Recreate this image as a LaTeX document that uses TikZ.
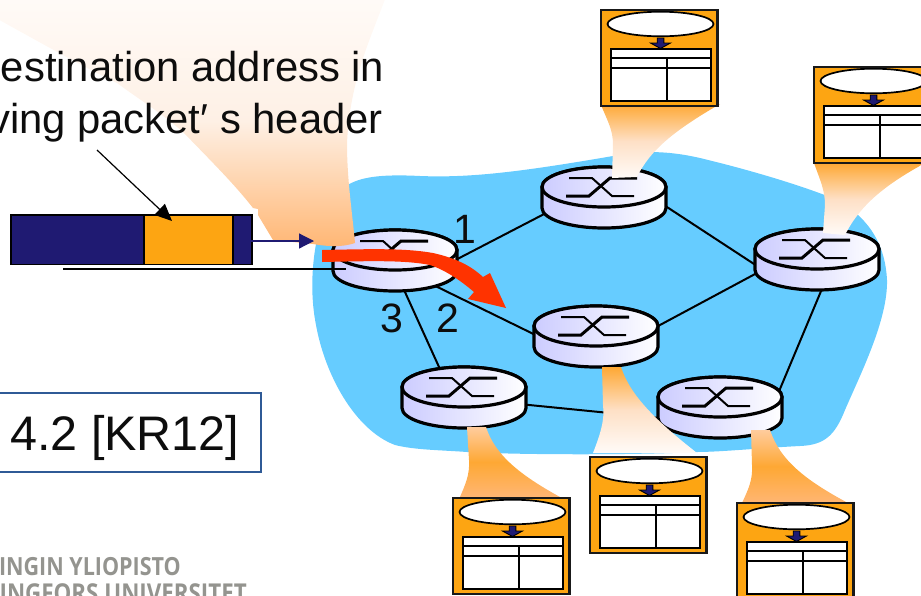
\documentclass[tikz,border=0pt]{standalone}
\usepackage{fontspec}
\setmainfont{Liberation Sans}
\newfontfamily\logofont[FakeStretch=0.86]{Open Sans}
\usetikzlibrary{arrows.meta}
\definecolor{cloudblue}{RGB}{102,204,255}
\definecolor{lav}{RGB}{204,204,255}
\definecolor{navy}{RGB}{31,26,114}
\definecolor{fworange}{RGB}{253,165,18}
\definecolor{coneorange}{RGB}{254,168,52}
\definecolor{conepeach}{RGB}{255,182,115}
\definecolor{conepale}{RGB}{255,251,248}
\definecolor{conemid}{RGB}{254,224,198}
\definecolor{bigmid}{RGB}{254,240,229}
\definecolor{arrowred}{RGB}{255,51,0}
\definecolor{framblue}{RGB}{47,90,150}
\definecolor{logogray}{RGB}{148,148,143}
\tikzset{
  x=1pt,y=-1pt,
  routerline/.style={draw=black,line width=3.2pt,left color=lav,right color=white},
  crossthin/.style={line width=2pt},
  crossthick/.style={line width=3pt},
  linkline/.style={draw=black,line width=2pt},
  boxframe/.style={draw=black!90,line width=2.2pt,fill=fworange},
  tableframe/.style={draw=black,line width=2.2pt,fill=white},
  tablerule/.style={draw=black,line width=1.6pt},
  bigtext/.style={inner sep=0pt,font=\fontsize{41.8}{50}\selectfont,text=black!95},
  labeltext/.style={inner sep=0pt,font=\fontsize{41}{48}\selectfont,text=black!95},
  logotext/.style={inner sep=0pt,font=\logofont\bfseries\fontsize{25}{28}\selectfont,text=logogray},
}
\newcommand{\routerat}[2]{%
  \begin{scope}[shift={(#1,#2)}]
    \path[routerline] (-62,0) -- (-62,21) arc[start angle=180,end angle=360,x radius=62pt,y radius=20pt] -- (62,0) arc[start angle=0,end angle=180,x radius=62pt,y radius=20pt] -- cycle;
    \path[routerline] (0,0) ellipse[x radius=62pt,y radius=20pt];
    \draw[crossthin] (-35,-9) -- (-12,-9) -- (8,9) -- (30,9);
    \draw[crossthick] (-38,9) -- (-15,9) -- (6,-9) -- (33,-9);
  \end{scope}}
\newcommand{\fwdbox}[2]{%
  \begin{scope}[shift={(#1,#2)}]
    \path[boxframe] (0,0) rectangle (116.5,96);
    \draw[fill=white,line width=1.7pt] (59.5,14) ellipse[x radius=53pt,y radius=12.3pt];
    \draw[fill=navy,line width=0.9pt] (56.2,28) -- (62.8,28) -- (62.8,33) -- (69.5,33) -- (59.5,38.5) -- (49.5,33) -- (56.2,33) -- cycle;
    \path[tableframe] (10,39) rectangle (110,91);
    \draw[tablerule] (10,48) -- (110,48) (10,58) -- (110,58) (66,48) -- (66,91);
  \end{scope}}
\begin{document}
\begin{tikzpicture}
\useasboundingbox (0,0) rectangle (921,595);
\clip (0,0) rectangle (921,595);
% cloud
\fill[cloudblue] (346,186) .. controls (360,177) and (380,174) .. (420,176)
  .. controls (470,178) and (520,172) .. (613,156)
  .. controls (640,151) and (665,150) .. (700,158)
  .. controls (750,170) and (800,185) .. (835,199)
  .. controls (865,215) and (885,240) .. (887,280)
  .. controls (888,320) and (860,375) .. (845,410)
  .. controls (835,435) and (825,445) .. (800,446)
  .. controls (760,448) and (720,452) .. (697,452)
  .. controls (640,455) and (520,455) .. (467,452)
  .. controls (440,450) and (415,450) .. (395,445)
  .. controls (355,430) and (325,375) .. (316,325)
  .. controls (308,285) and (314,240) .. (324,215)
  .. controls (330,200) and (338,192) .. (346,186) -- cycle;
% router positions
\coordinate (r1) at (395,250);
\coordinate (r2) at (604,187);
\coordinate (r3) at (817,249);
\coordinate (r4) at (596,326);
\coordinate (r5) at (464,387);
\coordinate (r6) at (720,397);
% links
\draw[linkline] ([shift={(20,31)}]r1) -- ([shift={(-29,11)}]r2);
\draw[linkline] ([shift={(20,26)}]r1) -- ([shift={(-36,21)}]r4);
\draw[linkline] ([shift={(0,20)}]r1) -- ([shift={(-15,2)}]r5);
\draw[linkline] ([shift={(40,5)}]r2) -- ([shift={(-37,32)}]r3);
\draw[linkline] ([shift={(-47,17)}]r3) -- ([shift={(36,14)}]r4);
\draw[linkline] ([shift={(7,35)}]r3) -- ([shift={(52,11)}]r6);
\draw[linkline] ([shift={(20,13.5)}]r5) -- ([shift={(-20,25)}]r6);
% routers
\routerat{395}{250}
\routerat{604}{187}
\routerat{817}{249}
\routerat{596}{326}
\routerat{464}{387}
\routerat{720}{397}
% cones
\shade[top color=conepale,bottom color=conepeach,middle color=bigmid] (387,-6) .. controls (370,40) and (350,80) .. (347,143) .. controls (347,180) and (352,210) .. (355,243)
  .. controls (340,248) and (325,246) .. (313,244) -- (273,240) -- (258,215) -- (258,209) -- (253,208)
  .. controls (235,185) and (215,165) .. (183,132) .. controls (160,112) and (140,100) .. (117,83) .. controls (80,65) and (50,48) .. (-6,17) -- (-6,-6) -- cycle;
\shade[top color=coneorange,bottom color=conepale,middle color=conemid] (601,105) .. controls (608,122) and (613,130) .. (613,145) -- (612,178) -- (637,177)
  .. controls (650,150) and (675,130) .. (720,104) -- cycle;
\shade[top color=coneorange,bottom color=conepale,middle color=conemid] (814,163) .. controls (820,180) and (825,190) .. (825,205) -- (823,233) -- (845,235)
  .. controls (860,205) and (885,185) .. (925,163) -- cycle;
\shade[top color=coneorange,bottom color=conepale,middle color=conemid] (602,367) -- (621,367) .. controls (630,395) and (655,420) .. (697,453) -- (593,453)
  .. controls (600,435) and (605,420) .. (603,405) -- cycle;
\shade[top color=conepeach!70!white,bottom color=conepeach,middle color=coneorange] (467,427) -- (486,427) .. controls (495,455) and (520,475) .. (560,497) -- (460,497)
  .. controls (465,485) and (470,475) .. (469,460) -- cycle;
\shade[top color=conepeach!70!white,bottom color=conepeach,middle color=coneorange] (751,430) -- (770,430) .. controls (780,460) and (805,480) .. (848,503) -- (742,503)
  .. controls (748,490) and (753,480) .. (752,465) -- cycle;
% forwarding tables
\fwdbox{601}{10}
\fwdbox{814}{67}
\fwdbox{590}{457}
\fwdbox{453}{498}
\fwdbox{737}{503}
% packet
\node[inner sep=0pt,minimum width=241pt,minimum height=49.5pt,draw=black,line width=1.5pt,fill=navy,anchor=north west] (packet) at (10,214) {};
\node[inner sep=0pt,minimum width=89pt,minimum height=49.5pt,draw=black,line width=1.5pt,fill=fworange,anchor=north west] (header) at (143,214) {};
\coordinate (pktout) at (250,241);
\coordinate (pktin) at (314,241);
\draw[navy,line width=1.2pt,-{Triangle[length=15pt,width=15pt]}] (pktout) -- (pktin);
\coordinate (hdrfrom) at (97,150);
\coordinate (hdrto) at (172,221);
\draw[line width=1.2pt,-{Triangle[length=17pt,width=15pt]}] (hdrfrom) -- (hdrto);
\coordinate (inleft) at (63,269);
\coordinate (inright) at (346,269);
\draw[line width=1.4pt] (inleft) -- (inright);
% red arrow
\coordinate (redtip) at (506,308);
\fill[arrowred] (322,250) .. controls (370,249) and (405,248) .. (433,253) .. controls (455,258) and (470,265) .. (483,277)
  -- (490,273) -- (redtip) -- (468,299) -- (474,292) .. controls (460,280) and (445,270) .. (430,265) .. controls (405,260) and (370,261) .. (322,262) -- cycle;
% texts
\node[bigtext,anchor=base east] (t1) at (384.5,81) {estination address in};
\node[bigtext,anchor=base east] (t2) at (383,133) {ving packet′ s header};
\node[labeltext,anchor=base] (l1) at (465,243) {1};
\node[labeltext,anchor=base] (l2) at (448,332) {2};
\node[labeltext,anchor=base] (l3) at (392,332) {3};
\draw[framblue,line width=1.2pt,fill=white] (-5,393) rectangle (261,472);
\node[inner sep=0pt,anchor=base west,font=\fontsize{48.5}{56}\selectfont,text=black!95] (cite) at (10,450) {4.2 [KR12]};
\node[logotext,anchor=base east] (logo1) at (181,575) {INGIN YLIOPISTO};
\node[logotext,anchor=base east,font=\logofont\bfseries\fontsize{26}{28}\selectfont] (logo2) at (247,602) {INGFORS UNIVERSITET};
\end{tikzpicture}
\end{document}
